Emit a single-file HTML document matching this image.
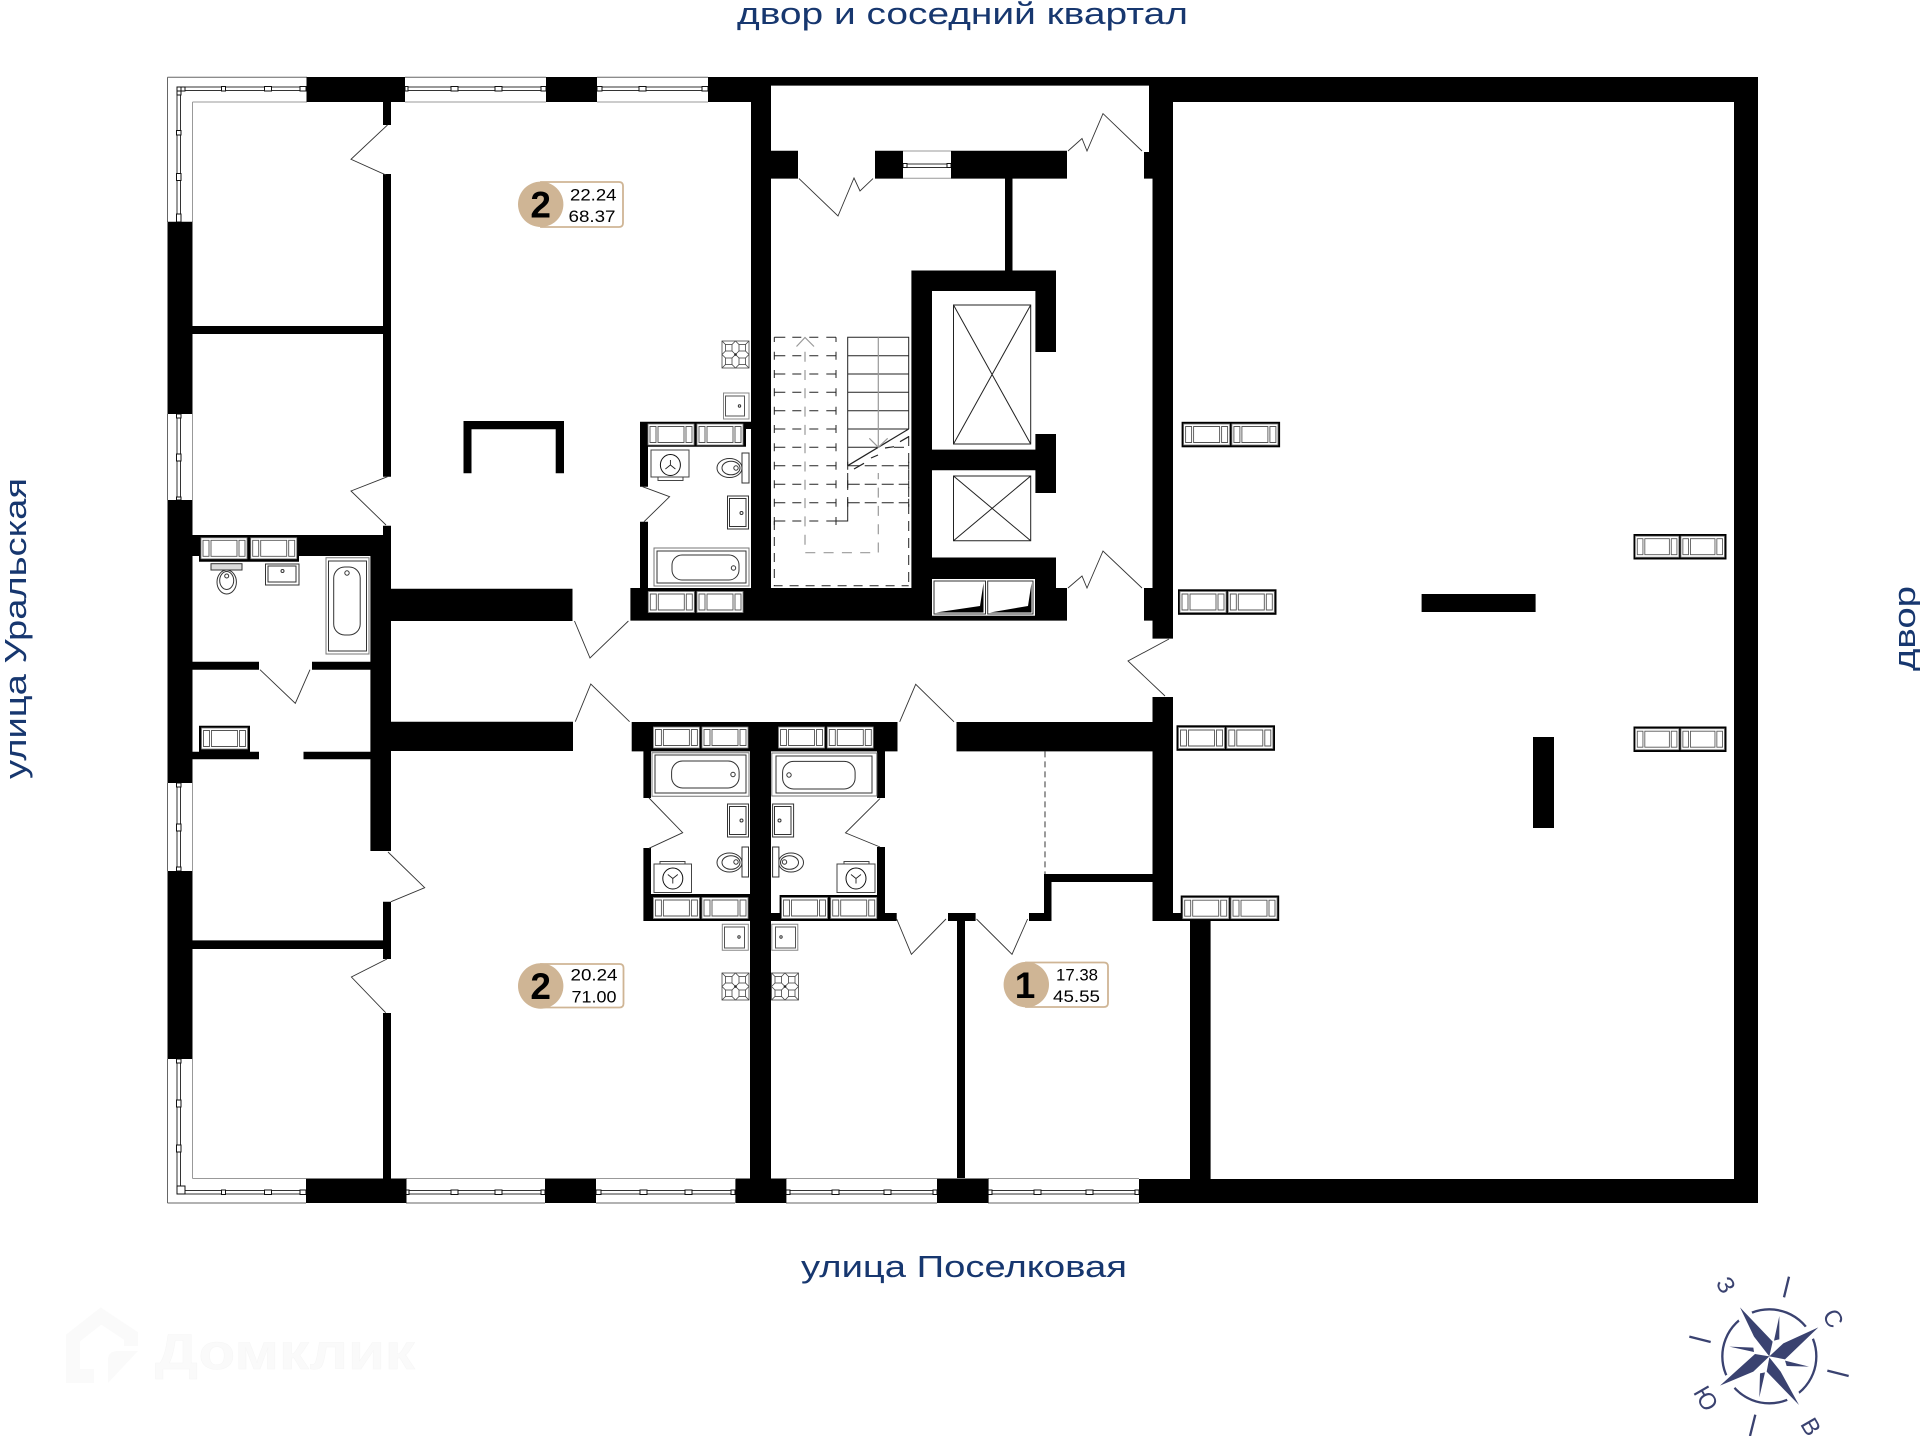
<!DOCTYPE html>
<html lang="ru">
<head>
<meta charset="utf-8">
<title>План этажа</title>
<style>
html,body{margin:0;padding:0;background:#fff;width:1920px;height:1436px;overflow:hidden}
svg{display:block}
text{font-family:"Liberation Sans","Noto Sans CJK SC",sans-serif}
</style>
</head>
<body>
<svg xmlns="http://www.w3.org/2000/svg" width="1920" height="1436" viewBox="0 0 1920 1436">
<defs>
  <g id="cab">
    <rect width="46" height="21" fill="#fff" stroke="#777" stroke-width=".8"/>
    <path d="M2 2.5h6v16h-6zM10 2.5h26v16h-26zM38 2.5h6v16h-6z" fill="none" stroke="#555" stroke-width=".9"/>
  </g>
  <g id="dcab">
    <rect width="98.5" height="25.5" fill="#000"/>
    <use href="#cab" x="2" y="2.2"/>
    <use href="#cab" x="50.3" y="2.2"/>
  </g>
  <g id="quad" fill="none" stroke="#444" stroke-width=".8">
    <path d="M0 0L13.5 13.5M13.5 0L0 13.5"/>
    <rect x="3.5" y="3.5" width="6.5" height="6.5" fill="#fff"/>
  </g>
  <g id="stove">
    <rect width="27" height="27" fill="#fff" stroke="#444" stroke-width=".8"/>
    <use href="#quad"/><use href="#quad" x="13.5"/><use href="#quad" y="13.5"/><use href="#quad" x="13.5" y="13.5"/>
    <circle cx="13.5" cy="13.5" r="1.3" fill="#222"/>
  </g>
  <path id="arms" d="M0 0V-5M0 0L5 4M0 0L-5 4" stroke="#222" stroke-width=".9" fill="none"/>
  <g id="ltread" fill="none" stroke="#222" stroke-width="1">
    <path d="M774.3 0H836" stroke-dasharray="11 7 9 8 9 8 10"/>
    <path d="M774.3 -4V4M836 -4V4"/>
  </g>
  <g id="rtread" fill="none" stroke="#222" stroke-width="1">
    <path d="M847.7 0H908.7" stroke-dasharray="12 5 12 5 12 5 10"/>
    <path d="M847.7 -4V4M908.7 -4V4"/>
  </g>
</defs>

<rect width="1920" height="1436" fill="#fff"/>

<!-- watermark -->
<path d="M94 1376H73V1338L101 1316L131 1336V1346" fill="none" stroke="#fafafa" stroke-width="14"/>
<path d="M108 1383V1360Q108 1351 118 1351H138Z" fill="#fafafa"/>
<text x="155" y="1369" font-size="50" font-weight="700" fill="#fafafa" stroke="#f6f6f6" stroke-width=".5" textLength="260" lengthAdjust="spacingAndGlyphs">Домклик</text>

<!-- window outlines -->
<path fill="none" stroke="#666" d="M167.5 77.3H307M405 77.3H546M597 77.3H708M167.5 77.3V222M167.5 414V500M167.5 783V871M167.5 1059V1203M167.5 1203H306M406 1203H545M596 1203H735M786 1203H937M988 1203H1139"/>
<path fill="none" stroke="#999" d="M192.5 102H307M405 102H546M597 102H708M192.5 102V222M192.5 414V500M192.5 783V871M192.5 1059V1178.5M192.5 1178.5H306M406 1178.5H545M596 1178.5H735M786 1178.5H937M988 1178.5H1139M903 151H951M903 178.3H951"/>
<path fill="none" stroke="#333" d="M177 87H307M177 90.5H307M405 87H546M405 90.5H546M597 87H708M597 90.5H708M177 87V222M180.5 87V222M177 414V500M180.5 414V500M177 783V871M180.5 783V871M177 1059V1194M180.5 1059V1190M177 1194H306M180.5 1190.5H306M406 1190.5H545M406 1194H545M596 1190.5H735M596 1194H735M786 1190.5H937M786 1194H937M988 1190.5H1139M988 1194H1139M903 164H951M903 167.5H951"/>
<path fill="#fff" stroke="#111" d="M177 87h8v4h-8zM177 87h4v8h-4zM221.5 86.5h4v4.5h-4zM264.5 86.5h7v4.5h-7zM300 86.5h6v4.5h-6zM405 86.5h3v4.5h-3zM451 86.5h7v4.5h-7zM495 86.5h7v4.5h-7zM541 86.5h5v4.5h-5zM597 86.5h5v4.5h-5zM639 86.5h7v4.5h-7zM702 86.5h6v4.5h-6zM176.5 130.5h4.5v4.5h-4.5zM176.5 173.5h4.5v7h-4.5zM176.5 214h4.5v8h-4.5zM176.5 414h4.5v4h-4.5zM176.5 454h4.5v7h-4.5zM176.5 497h4.5v3h-4.5zM176.5 783h4.5v4h-4.5zM176.5 824h4.5v7h-4.5zM176.5 867h4.5v4h-4.5zM176.5 1059h4.5v4h-4.5zM176.5 1100h4.5v7h-4.5zM176.5 1145h4.5v7h-4.5zM177 1186h8v8h-8zM221.5 1190h4v4.5h-4zM264.5 1190h7v4.5h-7zM300 1190h6v4.5h-6zM406 1190h3v4.5h-3zM451 1190h7v4.5h-7zM495 1190h7v4.5h-7zM541 1190h4v4.5h-4zM596 1190h5v4.5h-5zM640 1190h7v4.5h-7zM685 1190h7v4.5h-7zM731 1190h4v4.5h-4zM786 1190h4v4.5h-4zM832 1190h7v4.5h-7zM884 1190h7v4.5h-7zM933 1190h4v4.5h-4zM988 1190h4v4.5h-4zM1034 1190h7v4.5h-7zM1086 1190h7v4.5h-7zM1135 1190h4v4.5h-4zM903 163.5h4v4h-4zM947 163.5h4v4h-4z"/>

<!-- walls -->
<path fill="#000" d="M306.5 77h98.5v25h-98.5zM546 77h51v25h-51zM708 77h63v25h-63zM751 77h20v543h-20zM771 77h378v8.6h-378zM1149 77h24v75h-24zM1144 152h29v26.6h-29zM1152.5 178h20.5v410h-20.5zM1144 588h29v32.6h-29zM1152.5 620h20.5v18.6h-20.5zM1173 77h585v25h-585zM1734 77h24v1126h-24zM1139 1179h619v24h-619zM167.5 221.7h25v192.3h-25zM167.5 500h25v283h-25zM167.5 871h25v188h-25zM383 102h8v23h-8zM383 174h8v302.7h-8zM383 525.7h8v10h-8zM192 326h191v8h-191zM192 535h199v21h-199zM199 556h100v5.7h-100zM370.4 535h20.6v316h-20.6zM192 661.7h67v8h-67zM312 661.7h59v8h-59zM192 751.7h67v7.6h-67zM303.5 751.7h67v7.6h-67zM199 725.7h51v26h-51zM383 901.7h8v57.3h-8zM383 1013h8v165.5h-8zM192 940.4h191v8.6h-191zM463.5 421h100.5v8.3h-100.5zM463.5 421h8v52.3h-8zM555.7 421h8.3v52.3h-8.3zM640 421.7h106v25h-106zM640 421.7h111v7.3h-111zM640 421.7h8v65h-8zM640 521.7h8v70h-8zM630.4 588h436.6v32.6h-436.6zM771 150.7h27v27.9h-27zM875 150.7h28v27.9h-28zM951 150.7h116v27.9h-116zM1005 178h7.5v93h-7.5zM911.4 270.5h144.6v20.5h-144.6zM911.4 270.5h20.6v320h-20.6zM1035.4 270.5h20.6v81.5h-20.6zM1035.4 434h20.6v59h-20.6zM932 449.6h124v20.7h-124zM932 557.5h124v32h-124zM391 588.7h181.5v32.3h-181.5zM391 721.7h182v29.3h-182zM631.7 722h265.8v29.4h-265.8zM643.4 751h7.6v47h-7.6zM643.4 848h7.6v73h-7.6zM643.4 894h107v27h-107zM750 722h21v481h-21zM877 751h8v47h-8zM877 847h8v74h-8zM779.6 895h105v26h-105zM771 913h10v8h-10zM884.5 913h12.2v8h-12.2zM948 913h27.6v8h-27.6zM957 921h8v257h-8zM1029 913h22.5v8h-22.5zM1044 874h7.5v47h-7.5zM1045 874h108v8h-108zM956.5 722h196v29.4h-196zM1152.5 697h20.5v224h-20.5zM1173 913h9v8h-9zM1190 921h20.6v258h-20.6zM306 1178.5h100.5v24.5h-100.5zM545 1178.5h51v24.5h-51zM735.4 1178.5h51v24.5h-51zM937 1178.5h51.6v24.5h-51.6zM1421.6 594h114v18h-114zM1533 737h21v91h-21z"/>

<!-- doors -->
<path fill="none" stroke="#333" stroke-width=".9" d="M387.5 125L351 159.3L386 175M387.5 476.7L351 491L386 525M642.6 486.7L669.6 496.7L644 521.7M799 178.6L838 216L854 178L860 191L873 178.6M1068 151L1082 138.5L1087 151L1103 113.6L1142 151M1068 588L1082 576L1087 588L1103 551L1142 588M574.5 621L590 658L628.4 621M575.3 721.7L590.8 684L629.6 721.7M260 669.7L295.3 703.3L310 669.7M388 852L424.7 887.7L391 901.7M387 959L351.4 977L385.7 1012.7M649 798L682.7 832.7L649 848.3M880 798.6L845.5 832.9L880 847M899.7 721.8L915.7 684.3L954 721.8M896.7 919L911.4 954.3L946 919M976.5 919L1012 954.3L1027.6 919M1169 639L1128 661L1165 696"/>
<path d="M1045 751.4V874" fill="none" stroke="#222" stroke-width=".9" stroke-dasharray="6 4"/>

<!-- lift shafts -->
<path fill="none" stroke="#222" d="M953.5 305h77.2v139h-77.2zM953.5 305L1030.7 444M1030.7 305L953.5 444M953.5 476h77.2v64.7h-77.2zM953.5 476L1030.7 540.7M1030.7 476L953.5 540.7"/>
<rect x="932" y="579" width="103" height="36.7" fill="#fff"/>
<path fill="#fff" stroke="#333" d="M934 581h51.5v33h-51.5zM987.7 581h45.3v33h-45.3z"/>
<path d="M936 612.5H983.5V583L980 606Z M990 612.5H1031.5V583L1028 606Z" fill="#000"/>

<!-- stairs -->
<g fill="none" stroke="#222">
  <path d="M774.3 337.3H836" stroke-dasharray="11 7 9 8 9 8 10"/>
  <path d="M774.3 337.3V342M836 337.3V342M847.7 465.7V337.3H908.7V429M847.7 355.7H908.7M847.7 374H908.7M847.7 392.3H908.7M847.7 410.7H908.7M847.7 429H908.7M847.7 447.3H878M847.7 473V490M847.7 497V521H836"/>
  <path d="M847.7 465.7L908.7 429M854 469L864 463.3M871 458L878 455M885 448L894 446.7M900 441.7L908.7 436.7" stroke-width="1.2"/>
  <path d="M908.7 436V585.7" stroke-dasharray="10 7"/>
  <path d="M774.3 521V585.7H908.7" stroke-dasharray="9 7"/>
  <path d="M894 447.3H908.7" stroke-dasharray="10 5"/>
</g>
<use href="#ltread" y="355.7"/><use href="#ltread" y="374"/><use href="#ltread" y="392.3"/><use href="#ltread" y="410.7"/><use href="#ltread" y="429"/><use href="#ltread" y="447.3"/><use href="#ltread" y="465.7"/><use href="#ltread" y="484.3"/><use href="#ltread" y="502.7"/><use href="#ltread" y="521"/>
<use href="#rtread" y="465.7"/><use href="#rtread" y="484.3"/><use href="#rtread" y="502.7"/>
<g fill="none" stroke="#999" stroke-width="1.2">
  <path d="M878.3 337.3V447M796.5 346.5L805 337.5L814 346.5M869.3 438.3L878.3 447.3L887.7 438.3"/>
  <path d="M805 351.7V552.7H878.3V473" stroke-dasharray="10 8.3"/>
</g>

<!-- cabinets on wall bands -->
<use href="#cab" x="648" y="424"/><use href="#cab" x="697" y="424"/><use href="#cab" x="648.3" y="591.5"/><use href="#cab" x="697" y="591.5"/><use href="#cab" x="201" y="537.8"/><use href="#cab" x="250.7" y="537.8"/><use href="#cab" x="201.5" y="728"/><use href="#cab" x="653.4" y="727"/><use href="#cab" x="702" y="727"/><use href="#cab" x="778.5" y="727"/><use href="#cab" x="827.3" y="727"/><use href="#cab" x="653.4" y="897.5"/><use href="#cab" x="702" y="897.5"/><use href="#cab" x="781.5" y="897.5"/><use href="#cab" x="830.7" y="897.5"/>

<!-- free standing risers -->
<use href="#dcab" x="1181.6" y="421.8"/><use href="#dcab" x="1178" y="589.3"/><use href="#dcab" x="1176.5" y="725.3"/><use href="#dcab" x="1180.7" y="895.5"/>
<use href="#dcab" transform="translate(1633.5,534) scale(.944,1)"/><use href="#dcab" transform="translate(1633.5,726.5) scale(.944,1)"/>

<!-- stoves -->
<use href="#stove" x="722" y="341"/><use href="#stove" x="722" y="973"/><use href="#stove" x="771.5" y="973"/>

<!-- sanitary fixtures -->
<path fill="#fff" stroke="#888" d="M723.5 393h25.5v26h-25.5zM722.3 924.3h26v26h-26zM771.8 924.3h26v26h-26z"/>
<path fill="#fff" stroke="#555" d="M725.5 396h19v20h-19zM724.5 927h20v21h-20zM775.5 927h20v21h-20z"/>
<g fill="#fff" stroke="#333">
  <circle cx="739.5" cy="406" r="1.2"/><circle cx="739" cy="937" r="1.2"/><circle cx="781" cy="937" r="1.2"/>
  <path d="M727.5 496h21v33h-21zM729.5 498.5h16.5v28h-16.5zM727.5 804h21v33h-21zM729.5 806.5h16.5v28h-16.5zM772.6 804h21v33h-21zM774.5 806.5h16.5v28h-16.5zM265.5 564h33.5v21h-33.5zM268 566h28v16h-28z"/>
  <circle cx="741.5" cy="513" r="1.5"/><circle cx="741.5" cy="820.5" r="1.5"/><circle cx="779.5" cy="820.5" r="1.5"/><circle cx="282.5" cy="571" r="1.5"/>
  <ellipse cx="729.5" cy="468" rx="12.5" ry="9.5"/><ellipse cx="731" cy="468" rx="9" ry="6.8"/><circle cx="736" cy="468" r="2.2"/><rect x="742" y="453" width="7" height="30"/>
  <ellipse cx="729.5" cy="862.5" rx="12.5" ry="9.5"/><ellipse cx="731" cy="862.5" rx="9" ry="6.8"/><circle cx="736" cy="862" r="2.2"/><rect x="742" y="847" width="6.5" height="30"/>
  <ellipse cx="791" cy="862.5" rx="12.5" ry="9.5"/><ellipse cx="789.5" cy="862.5" rx="9" ry="6.8"/><circle cx="784.5" cy="862" r="2.2"/><rect x="772.6" y="847" width="6.3" height="30"/>
  <ellipse cx="226.7" cy="582" rx="9.7" ry="12"/><ellipse cx="226.7" cy="580.5" rx="7" ry="9"/><circle cx="226.7" cy="576" r="2"/><rect x="211" y="563.7" width="31" height="6.3" fill="#ddd"/>
  <path stroke="#444" d="M658 477h25v3.5h-25zM651 450h38v27h-38zM660 861.5h25v2.5h-25zM654 864h37.5v28.5h-37.5zM844 861.5h25v2.5h-25zM837 864h38v28.5h-38z"/>
  <ellipse cx="670.4" cy="465" rx="10" ry="10.5" stroke="#111"/><ellipse cx="672.8" cy="878.5" rx="10" ry="10.5" stroke="#111"/><ellipse cx="856" cy="878.5" rx="10" ry="10.5" stroke="#111"/>
  <path stroke="#777" d="M654 548h95v38h-95zM652 752.7h97v43.5h-97zM771.8 753h105v43h-105zM326 557.7h43v96.3h-43z"/>
  <path d="M657 551h89v32h-89zM655 755h91v38h-91zM776 756h96v37h-96zM328.5 561h38v90h-38z"/>
  <rect x="672" y="555" width="67" height="25" rx="10"/><rect x="671.6" y="761" width="67.5" height="27" rx="11"/><rect x="782.6" y="761.4" width="72.5" height="27.6" rx="11"/><rect x="333.7" y="567" width="26.5" height="68" rx="11"/>
  <circle cx="733.5" cy="568" r="2.2"/><circle cx="733" cy="774.5" r="2.2"/><circle cx="789" cy="775" r="2.2"/><circle cx="347" cy="573" r="2.2"/>
</g>
<use href="#arms" x="670.4" y="465"/>
<use href="#arms" transform="translate(672.8,878.5) rotate(180)"/>
<use href="#arms" transform="translate(856,878.5) rotate(180)"/>

<!-- badges -->
<path d="M541 182H619Q623 182 623 186V223Q623 227 619 227H541ZM541 964H619.5Q623.5 964 623.5 968V1003.5Q623.5 1007.5 619.5 1007.5H541ZM1026 962.5H1104Q1108 962.5 1108 966.5V1003Q1108 1007 1104 1007H1026Z" fill="#fff" stroke="#cfb595" stroke-width="1.8"/>
<circle cx="540.7" cy="204.3" r="22.7" fill="#cfb595"/>
<circle cx="540.7" cy="986" r="22.7" fill="#cfb595"/>
<circle cx="1026.3" cy="984.6" r="22.7" fill="#cfb595"/>
<text x="540.7" y="217.5" text-anchor="middle" font-size="37" font-weight="700" fill="#000">2</text>
<text x="570" y="200.5" font-size="17" fill="#000" textLength="46.5" lengthAdjust="spacingAndGlyphs">22.24</text>
<text x="568.5" y="221.8" font-size="17" fill="#000" textLength="47" lengthAdjust="spacingAndGlyphs">68.37</text>
<text x="540.7" y="999" text-anchor="middle" font-size="37" font-weight="700" fill="#000">2</text>
<text x="570.5" y="980.5" font-size="17" fill="#000" textLength="47" lengthAdjust="spacingAndGlyphs">20.24</text>
<text x="571.5" y="1002.5" font-size="17" fill="#000" textLength="45" lengthAdjust="spacingAndGlyphs">71.00</text>
<text x="1025" y="998" text-anchor="middle" font-size="37" font-weight="700" fill="#000">1</text>
<text x="1056" y="980.4" font-size="17" fill="#000" textLength="42" lengthAdjust="spacingAndGlyphs">17.38</text>
<text x="1053" y="1001.8" font-size="17" fill="#000" textLength="47" lengthAdjust="spacingAndGlyphs">45.55</text>

<!-- street labels -->
<g fill="#17376f" font-size="31">
  <text x="737" y="24" textLength="451" lengthAdjust="spacingAndGlyphs">двор и соседний квартал</text>
  <text x="801" y="1277" textLength="326" lengthAdjust="spacingAndGlyphs">улица Поселковая</text>
  <text transform="translate(26,779) rotate(-90)" textLength="301" lengthAdjust="spacingAndGlyphs">улица Уральская</text>
  <text transform="translate(1915,671) rotate(-90)" textLength="85" lengthAdjust="spacingAndGlyphs">двор</text>
</g>

<!-- compass -->
<g transform="translate(1650,1240) scale(.33333)">
  <circle cx="358" cy="349" r="141" fill="#fff" stroke="#3a4270" stroke-width="7"/>
  <path fill="#fff" d="M255 222L300 205L330 270L290 280ZM490 245L512 285L440 320L430 285ZM465 490L425 510L390 430L425 420ZM195 425L230 465L290 410L265 385Z"/>
  <path fill="#3a4270" d="M270 202L368 305L358 349L312 290ZM505 262L405 358L358 349L400 310ZM447 495L350 395L358 352L392 395ZM210 437L315 342L358 349L310 395ZM388 228L372 302L388 298ZM477 380L405 362L410 378ZM328 472L345 397L330 400ZM238 320L310 323L312 336Z"/>
  <path stroke="#3a4270" stroke-width="7" fill="none" d="M417 110L402 172M532 392L596 408M316 524L300 588M118 290L182 306"/>
  <g fill="#3a4270" font-size="72" text-anchor="middle">
    <text transform="translate(550,235) rotate(60)" y="25">С</text>
    <text transform="translate(228,135) rotate(60)" y="25">З</text>
    <text transform="translate(168,475) rotate(60)" y="25">Ю</text>
    <text transform="translate(483,560) rotate(60)" y="25">В</text>
  </g>
</g>
</svg>
</body>
</html>
